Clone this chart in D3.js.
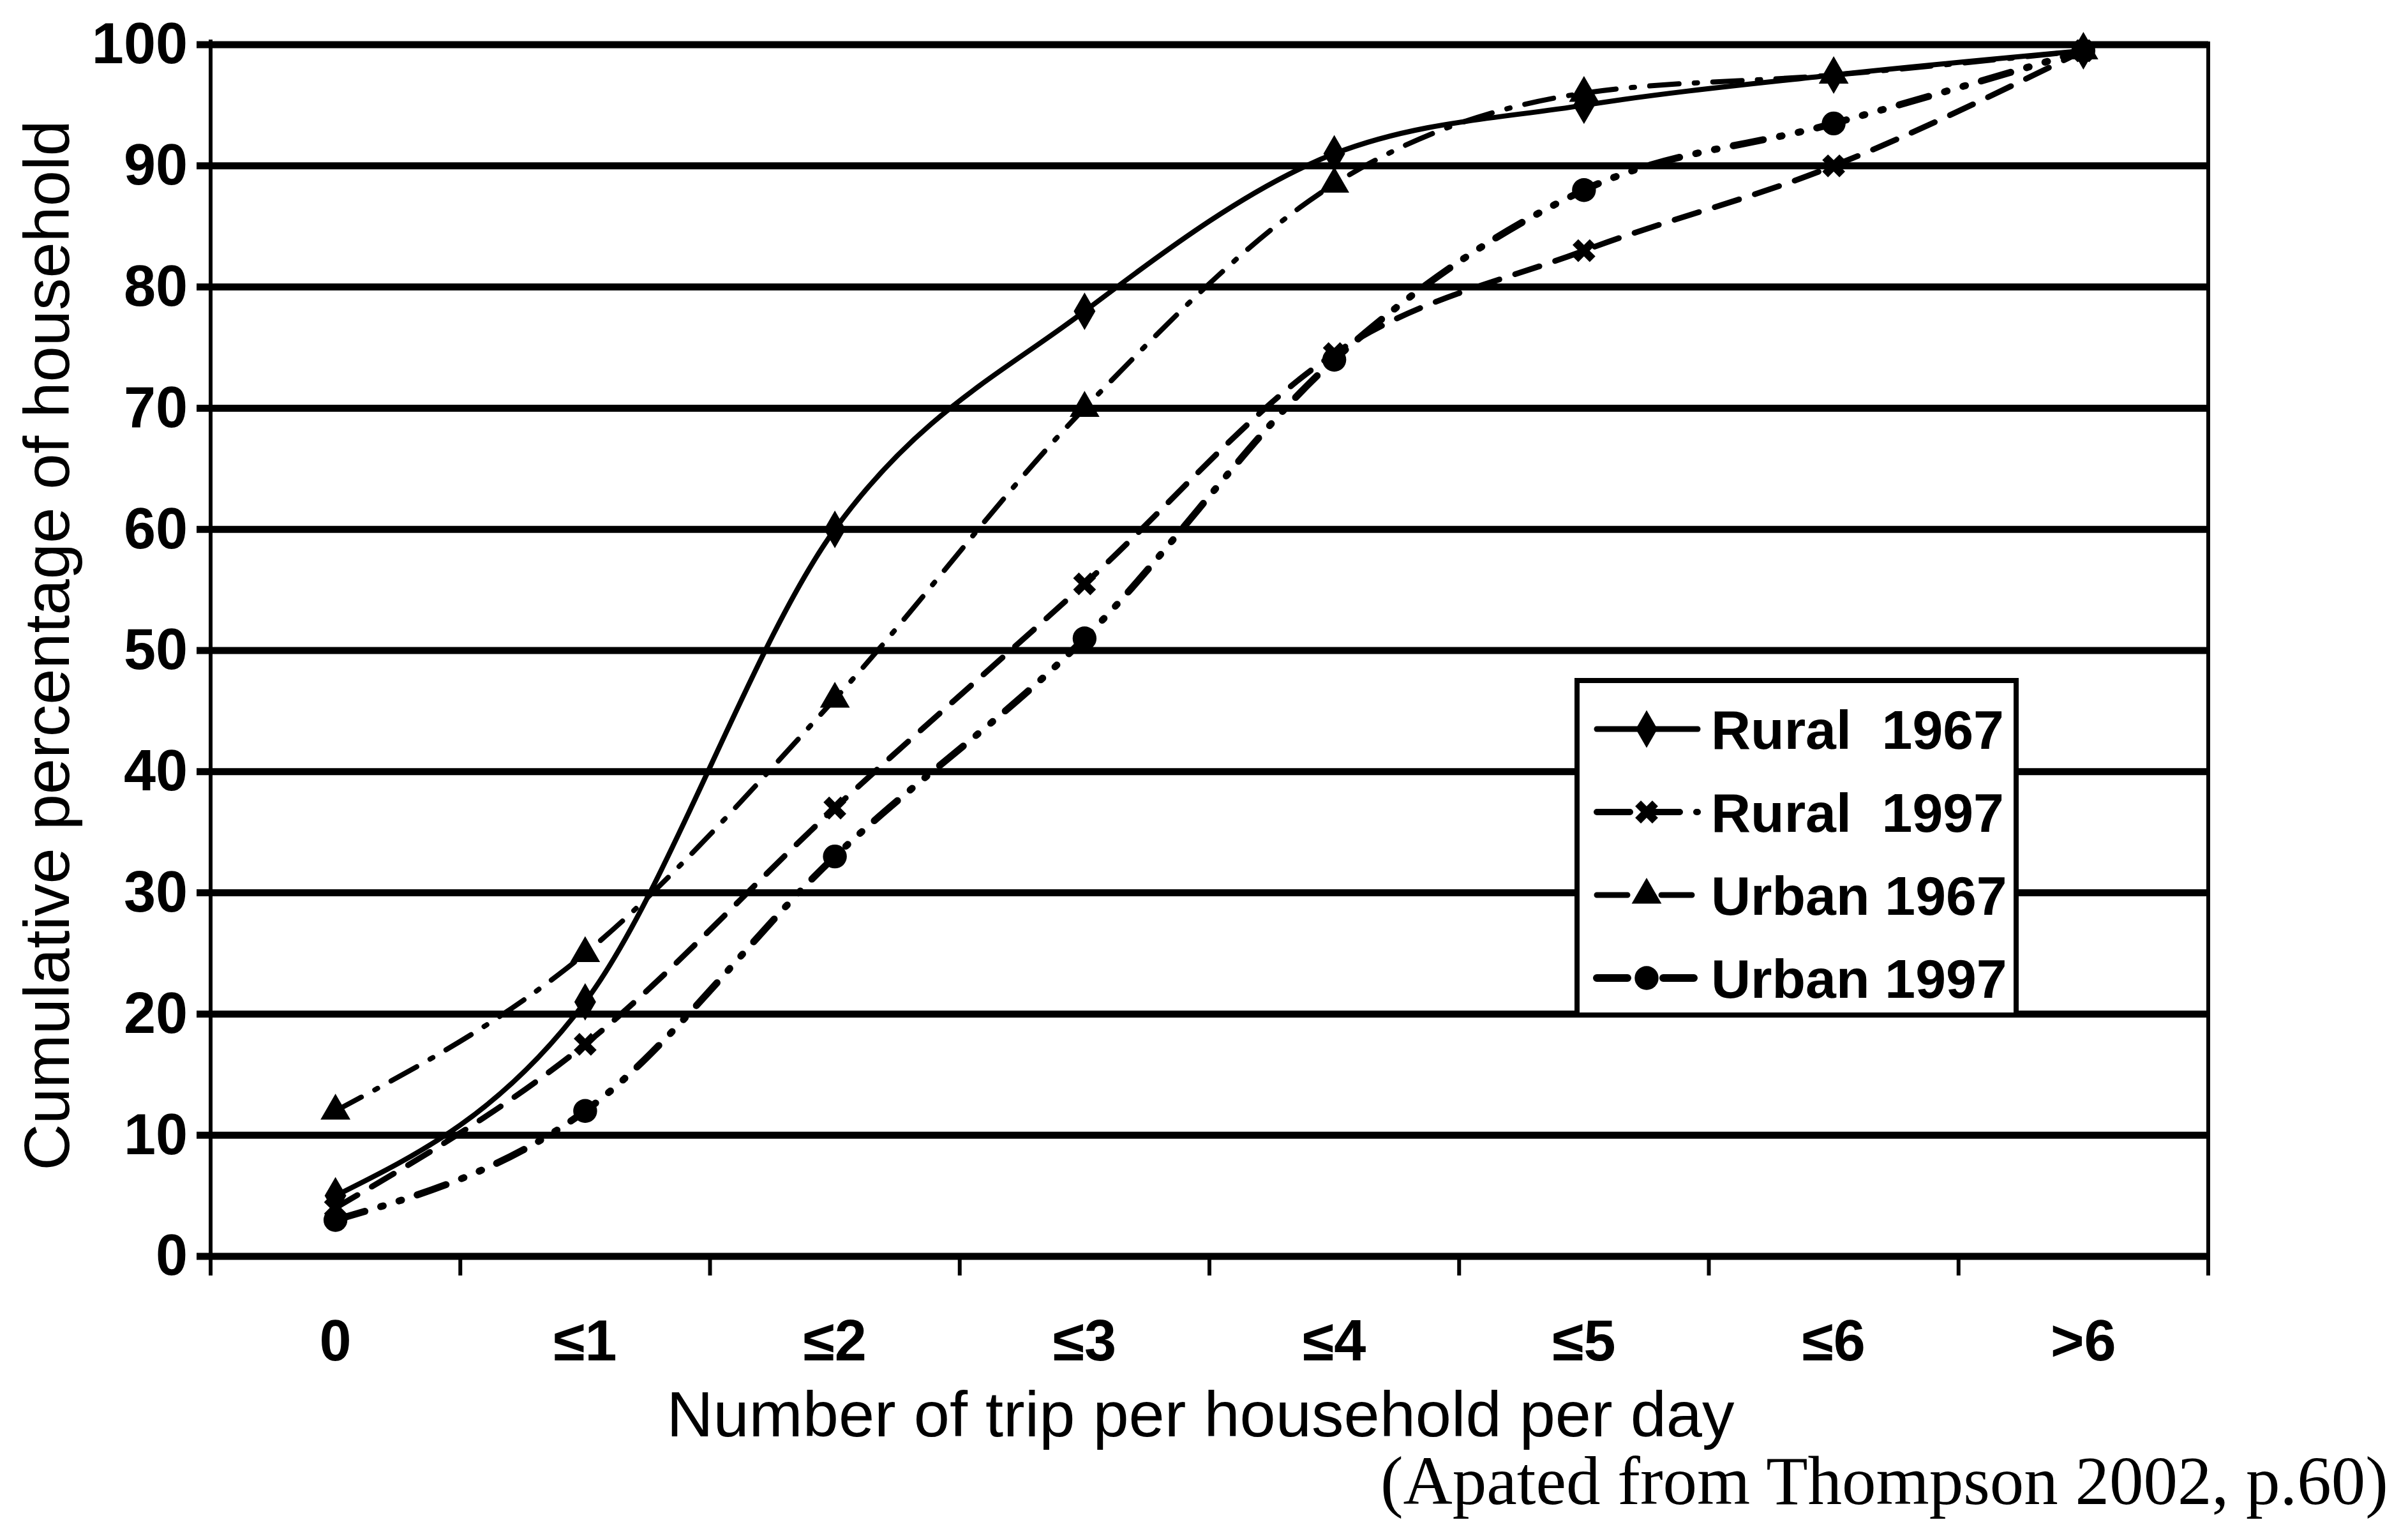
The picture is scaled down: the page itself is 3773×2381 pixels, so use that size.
<!DOCTYPE html>
<html>
<head>
<script src="https://d3js.org/d3.v7.min.js"></script>
<title>Cumulative trips per household</title>
<style>
  body { margin: 0; background: #fff; }
  text { fill: #000; }
</style>
</head>
<body>
<svg width="3773" height="2381"></svg>
<script>
// categories and series (cumulative % of households)
const categories = ["0", "\u22641", "\u22642", "\u22643", "\u22644", "\u22645", "\u22646", ">6"];
const rural1967 = [5, 21, 60, 78, 91, 95, 97.5, 99.5];
const rural1997 = [4, 17.5, 37, 55.5, 74.5, 83, 90, 99.5];
const urban1967 = [12, 25, 46, 70, 88.5, 96, 97.5, 99.5];
const urban1997 = [3, 12, 33, 51, 74, 88, 93.5, 99.5];
const yTicks = [0, 10, 20, 30, 40, 50, 60, 70, 80, 90, 100];
const seriesNames = ["Rural  1967", "Rural  1997", "Urban 1967", "Urban 1997"];

const svg = d3.select("svg");
const plotLeft = 330, plotRight = 3460, plotTop = 70, plotBottom = 1968;

const x = d3.scaleBand().domain(categories).range([plotLeft, plotRight]).padding(0);
const y = d3.scaleLinear().domain([0, 100]).range([plotBottom, plotTop]);

// horizontal gridlines
svg.append("g")
  .selectAll("line")
  .data(yTicks)
  .enter().append("line")
  .attr("x1", plotLeft - 22)
  .attr("x2", plotRight)
  .attr("y1", d => y(d))
  .attr("y2", d => y(d))
  .attr("stroke", "#000")
  .attr("stroke-width", 11);

// right border
svg.append("line")
  .attr("x1", plotRight).attr("x2", plotRight)
  .attr("y1", y(100) - 5).attr("y2", plotBottom + 30)
  .attr("stroke", "#000").attr("stroke-width", 6);

// y axis
const yAxis = svg.append("g")
  .attr("transform", `translate(${plotLeft},0)`)
  .call(d3.axisLeft(y).tickValues(yTicks).tickSize(22).tickPadding(14));
yAxis.select(".domain").attr("stroke-width", 6).attr("d", `M0,${y(100) - 8}V${plotBottom + 30}`);
yAxis.selectAll(".tick line").attr("stroke-width", 6);
yAxis.selectAll(".tick text")
  .attr("font-family", "Liberation Sans, Arial, sans-serif")
  .attr("font-weight", "bold")
  .attr("font-size", 90);

// x axis: ticks at band boundaries
const xAxis = svg.append("g")
  .attr("transform", `translate(0,${plotBottom})`);
xAxis.selectAll("line")
  .data(d3.range(categories.length + 1))
  .enter().append("line")
  .attr("x1", d => plotLeft + d * x.bandwidth())
  .attr("x2", d => plotLeft + d * x.bandwidth())
  .attr("y1", 0).attr("y2", 30)
  .attr("stroke", "#000").attr("stroke-width", 6);
xAxis.selectAll("text")
  .data(categories)
  .enter().append("text")
  .attr("x", d => x(d) + x.bandwidth() / 2)
  .attr("y", 163)
  .attr("text-anchor", "middle")
  .attr("font-family", "Liberation Sans, Arial, sans-serif")
  .attr("font-weight", "bold")
  .attr("font-size", 90)
  .text(d => d);

// axis titles
svg.append("text")
  .attr("transform", `translate(108,${(plotTop + plotBottom) / 2 - 8}) rotate(-90)`)
  .attr("text-anchor", "middle")
  .attr("font-family", "Liberation Sans, Arial, sans-serif")
  .attr("font-size", 101)
  .text("Cumulative percentage of household");

svg.append("text")
  .attr("x", (plotLeft + plotRight) / 2 - 14)
  .attr("y", 2250)
  .attr("text-anchor", "middle")
  .attr("font-family", "Liberation Sans, Arial, sans-serif")
  .attr("font-size", 101)
  .text("Number of trip per household per day");

svg.append("text")
  .attr("x", 3742)
  .attr("y", 2356)
  .attr("text-anchor", "end")
  .attr("font-family", "Liberation Serif, Times New Roman, serif")
  .attr("font-size", 107)
  .text("(Apated from Thompson 2002, p.60)");

// series
const styles = [
  { values: rural1967, dash: null, width: 8, symbol: d3.symbolDiamond, size: 1000, rot: 0 },
  { values: rural1997, dash: "40 26", width: 9, symbol: d3.symbolCross, size: 800, rot: 45 },
  { values: urban1967, dash: "46 24 5 24", width: 8, symbol: d3.symbolTriangle, size: 950, rot: 0 },
  { values: urban1997, dash: "48 26 4 26 4 26", width: 11, symbol: d3.symbolCircle, size: 1100, rot: 0 }
];

const line = d3.line()
  .x((d, i) => x(categories[i]) + x.bandwidth() / 2)
  .y(d => y(d))
  .curve(d3.curveMonotoneX);

styles.forEach(s => {
  svg.append("path")
    .datum(s.values)
    .attr("d", line)
    .attr("fill", "none")
    .attr("stroke", "#000")
    .attr("stroke-width", s.width)
    .attr("stroke-linecap", "round")
    .attr("stroke-dasharray", s.dash);

  svg.append("g")
    .selectAll("path")
    .data(s.values)
    .enter().append("path")
    .attr("transform", (d, i) => `translate(${x(categories[i]) + x.bandwidth() / 2},${y(d)}) rotate(${s.rot})`)
    .attr("d", d3.symbol().type(s.symbol).size(s.size))
    .attr("fill", "#000");
});

// legend
const legend = svg.append("g");
legend.append("rect")
  .attr("x", 2471).attr("y", 1066)
  .attr("width", 688).attr("height", 524)
  .attr("fill", "#fff")
  .attr("stroke", "#000")
  .attr("stroke-width", 8);

const rowY = [1142, 1272, 1402, 1532];
const legendDash = [null, "52 26", "48 24 5 24", "48 26 4 26"];
styles.forEach((s, i) => {
  const g = legend.append("g").attr("transform", `translate(0,${rowY[i]})`);
  g.append("line")
    .attr("x1", 2502).attr("x2", 2660)
    .attr("y1", 0).attr("y2", 0)
    .attr("stroke", "#000")
    .attr("stroke-width", s.width + 1)
    .attr("stroke-linecap", "round")
    .attr("stroke-dasharray", legendDash[i]);
  g.append("path")
    .attr("transform", `translate(2580,0) rotate(${s.rot})`)
    .attr("d", d3.symbol().type(s.symbol).size(s.size))
    .attr("fill", "#000");
  g.append("text")
    .attr("x", 2681)
    .attr("y", 0)
    .attr("dy", "0.36em")
    .attr("xml:space", "preserve")
    .style("white-space", "pre")
    .attr("font-family", "Liberation Sans, Arial, sans-serif")
    .attr("font-weight", "bold")
    .attr("font-size", 86)
    .text(seriesNames[i]);
});
</script>
</body>
</html>
